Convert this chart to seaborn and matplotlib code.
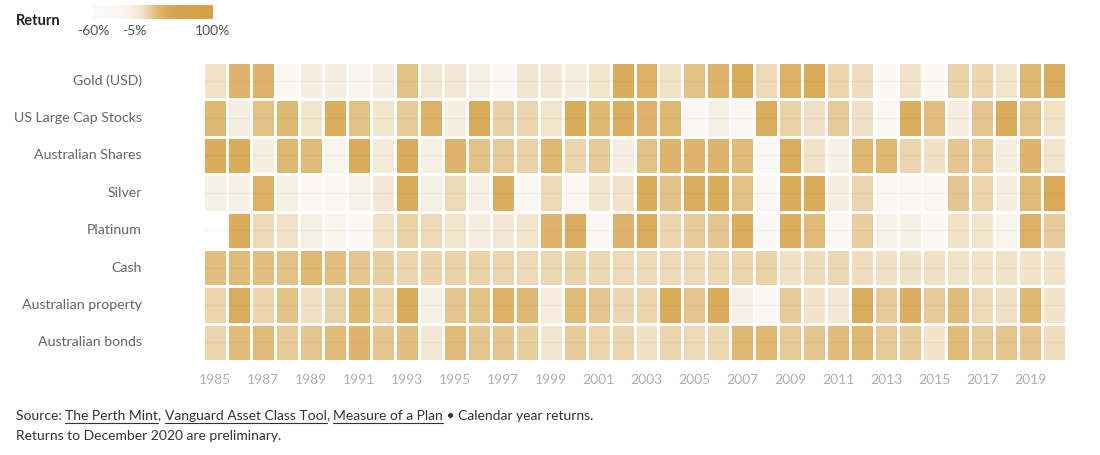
import numpy as np
import pandas as pd
import matplotlib
matplotlib.use("Agg")
import matplotlib.pyplot as plt
import seaborn as sns
from matplotlib.colors import LinearSegmentedColormap

sns.set_theme(style="white")
plt.rcParams['font.family'] = ['Lato', 'DejaVu Sans']

years = list(range(1985, 2021))
assets = ["Gold (USD)", "US Large Cap Stocks", "Australian Shares", "Silver",
          "Platinum", "Cash", "Australian property", "Australian bonds"]

gold = [5, 30, 30, -25, -5, -5, -15, -5, 22, 0, 0, -6, -20, 2, 1, -4, 3, 38,
        32, 5, 22, 30, 38, 10, 32, 38, 12, 8, -30, 4, -25, 14, 12, 3, 28, 36]
us_large = [28, -5, 22, 28, 3, 35, 22, 3, 18, 32, -5, 38, 15, 12, 3, 38, 28, 35,
            30, 28, -20, -8, -20, 35, 14, 6, 18, 6, -20, 35, 24, -4, 20, 38, 22, 5]
aus_shares = [38, 38, -5, 28, 26, -15, 38, -2, 38, -6, 30, 22, 18, 14, 28, 12, 18, -5,
              22, 30, 30, 30, 26, -30, 36, 5, -8, 28, 28, 12, 6, 20, 18, -5, 30, 2]
silver = [-8, -6, 32, -8, -20, -20, -10, 0, 38, -6, 10, -8, 35, -20, 10, -20, 2, 4,
          38, 22, 36, 38, 22, -25, 38, 38, -5, 12, -30, -25, -25, 20, 12, -5, 26, 40]
platinum = [np.nan, 38, 10, 5, -6, -15, -20, 5, 14, 10, 3, -4, 0, 3, 30, 36, -20, 30,
            36, 12, 18, 20, 35, -30, 35, 26, -20, 16, -10, -8, -20, 5, 3, -15, 32, 18]
cash = [24, 26, 24, 22, 28, 24, 20, 16, 12, 13, 14, 14, 12, 10, 11, 14, 11, 10,
        10, 10, 10, 11, 12, 14, 6, 9, 11, 8, 6, 6, 6, 5, 5, 5, 4, 4]
property_ = [12, 36, 12, 22, 6, 14, 28, 14, 38, -6, 20, 22, 32, 28, -4, 26, 20, 12,
             12, 38, 20, 38, -8, -30, 18, 4, 0, 36, 18, 34, 18, 26, 10, 6, 28, 4]
bonds = [12, 26, 26, 18, 20, 26, 30, 20, 24, 0, 26, 20, 20, 16, 2, 18, 12, 12,
         6, 12, 10, 11, 28, 28, 18, 20, 26, 28, 18, 18, 4, 26, 18, 20, 20, 8]

df = pd.DataFrame([gold, us_large, aus_shares, silver, platinum, cash, property_, bonds],
                  index=assets, columns=years)

vmin, vmax = -60, 100
nodes = [(-60, "#fcfbf9"), (-20, "#faf7f2"), (-5, "#f6eee2"), (5, "#f1e2c8"),
         (15, "#e9d0a4"), (25, "#e1bc7d"), (35, "#dbad5f"), (45, "#d7a652"),
         (100, "#d4a048")]
cmap = LinearSegmentedColormap.from_list(
    "ret", [((v - vmin) / (vmax - vmin), c) for v, c in nodes])

W, H = 1100, 455
fig = plt.figure(figsize=(W / 100, H / 100), dpi=100)
fig.patch.set_facecolor("white")

ax = fig.add_axes([203 / W, 1 - 361 / H, 863 / W, 299 / H])
sns.heatmap(df, cmap=cmap, vmin=vmin, vmax=vmax, linewidths=2, linecolor="white",
            cbar=False, ax=ax)
for i in range(len(assets)):
    ax.hlines(i + 0.5, 0, len(years), color=(0, 0, 0, 0.035), lw=1, zorder=3)

ax.set_xlabel("")
ax.set_ylabel("")
ax.set_xticks(np.arange(0, len(years), 2) + 0.5)
ax.set_xticklabels([str(y) for y in years[::2]], rotation=0, color="#b0b0b0", fontsize=10)
ax.set_yticks(np.arange(len(assets)) + 0.5)
ax.set_yticklabels(assets, rotation=0, color="#666666", fontsize=10.2)
ax.tick_params(axis="y", length=0, pad=44)
ax.tick_params(axis="x", length=0, pad=9)
for s in ax.spines.values():
    s.set_visible(False)

# legend
fig.text(16 / W, 1 - 21 / H, "Return", fontsize=10.5, fontweight="bold",
         color="#222222", va="center", ha="left")
lax = fig.add_axes([93 / W, 1 - 19 / H, 119 / W, 14 / H])
grad = np.linspace(vmin, vmax, 200).reshape(1, -1)
lax.imshow(grad, aspect="auto", cmap=cmap, vmin=vmin, vmax=vmax,
           extent=[vmin, vmax, 0, 1])
lax.set_axis_off()
for val, lab in [(-60, "-60%"), (-5, "-5%"), (100, "100%")]:
    xpx = 93 + (val - vmin) / (vmax - vmin) * 119
    fig.text(xpx / W, 1 - 31 / H, lab, fontsize=10, color="#555555",
             ha="center", va="center")

# footer with underlined links
fig.canvas.draw()
renderer = fig.canvas.get_renderer()
pieces = [("Source: ", False), ("The Perth Mint", True), (", ", False),
          ("Vanguard Asset Class Tool", True), (", ", False),
          ("Measure of a Plan", True), (" \u2022 Calendar year returns.", False)]
x = 16
y = 1 - 416 / H
for txt, ul in pieces:
    t = fig.text(x / W, y, txt, fontsize=10, color="#333333", ha="left", va="center")
    bb = t.get_window_extent(renderer)
    if ul:
        yl = bb.y0 - 0.5
        fig.add_artist(plt.Line2D([bb.x0 / W, bb.x1 / W], [yl / H, yl / H],
                                  color="#333333", lw=0.8))
    x = bb.x1
fig.text(16 / W, 1 - 436 / H, "Returns to December 2020 are preliminary.",
         fontsize=10, color="#333333", ha="left", va="center")

fig.savefig("out.png", dpi=100, facecolor="white")
